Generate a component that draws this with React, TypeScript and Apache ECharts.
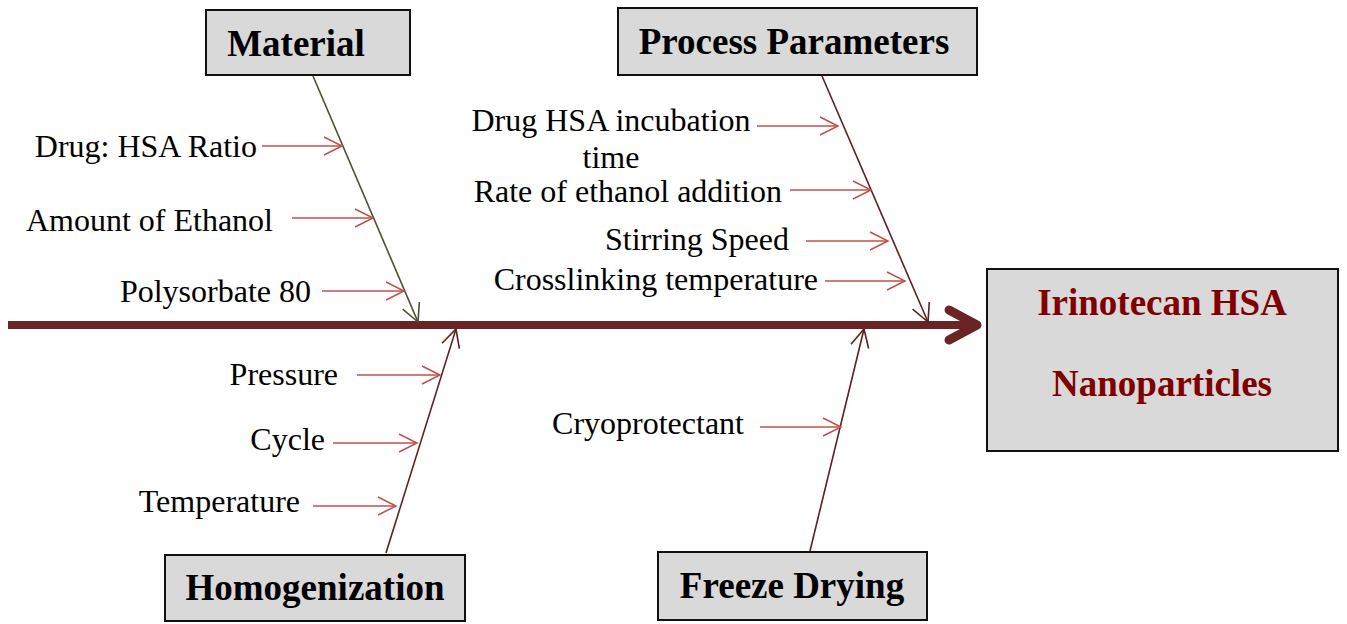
import React, { useEffect, useRef } from "react";
import * as echarts from "echarts";

// ---- Data (labels) ----
const categories = ["Material", "Process Parameters", "Homogenization", "Freeze Drying"];
const materialCauses = ["Drug: HSA Ratio", "Amount of Ethanol", "Polysorbate 80"];
const processCauses = ["Drug HSA incubation\ntime", "Rate of ethanol addition", "Stirring Speed", "Crosslinking temperature"];
const homogenizationCauses = ["Pressure", "Cycle", "Temperature"];
const freezeDryingCauses = ["Cryoprotectant"];
const effectLines = ["Irinotecan HSA", "Nanoparticles"];

// ---- Layout (pixels) ----
const W = 1347;
const H = 624;
const FONT = "'Liberation Serif', 'Times New Roman', serif";
const SPINE = "#6b2424";
const RED = "#c0504d";

const boxLayout = [
  { x: 206, y: 10, w: 204, h: 65, tx: 296, ty: 43, branchColor: "#4f4f2f", from: [313, 76], to: [418, 322] },
  { x: 618, y: 8, w: 359, h: 67, tx: 794, ty: 41, branchColor: "#5e1f1f", from: [822, 76], to: [928, 322] },
  { x: 165, y: 555, w: 300, h: 66, tx: 315, ty: 587, branchColor: "#5e1f1f", from: [386, 553], to: [456, 329] },
  { x: 658, y: 552, w: 269, h: 68, tx: 792, ty: 585, branchColor: "#5e1f1f", from: [810, 551], to: [864, 329] },
];

type CauseLayout = { tx: number; ty: number; align: "right" | "center"; ax0: number; ax1: number; ay: number };
const causeLayout: CauseLayout[][] = [
  [
    { tx: 257, ty: 146, align: "right", ax0: 262, ax1: 342, ay: 146 },
    { tx: 273, ty: 220, align: "right", ax0: 292, ax1: 373, ay: 218 },
    { tx: 311, ty: 291, align: "right", ax0: 322, ax1: 404, ay: 291 },
  ],
  [
    { tx: 611, ty: 138, align: "center", ax0: 757, ax1: 838, ay: 126 },
    { tx: 782, ty: 191, align: "right", ax0: 790, ax1: 871, ay: 190 },
    { tx: 789, ty: 239, align: "right", ax0: 806, ax1: 888, ay: 241 },
    { tx: 818, ty: 279, align: "right", ax0: 825, ax1: 905, ay: 281 },
  ],
  [
    { tx: 338, ty: 374, align: "right", ax0: 357, ax1: 440, ay: 375 },
    { tx: 325, ty: 439, align: "right", ax0: 333, ax1: 417, ay: 443 },
    { tx: 300, ty: 501, align: "right", ax0: 313, ax1: 396, ay: 506 },
  ],
  [{ tx: 744, ty: 423, align: "right", ax0: 760, ax1: 841, ay: 427 }],
];
const causeGroups = [materialCauses, processCauses, homogenizationCauses, freezeDryingCauses];

function chevron(tip: number[], from: number[], len: number, halfAngleDeg: number) {
  const dx = from[0] - tip[0];
  const dy = from[1] - tip[1];
  const d = Math.hypot(dx, dy);
  const ux = dx / d;
  const uy = dy / d;
  const a = (halfAngleDeg * Math.PI) / 180;
  const rot = (s: number) => [
    tip[0] + len * (ux * Math.cos(s * a) - uy * Math.sin(s * a)),
    tip[1] + len * (ux * Math.sin(s * a) + uy * Math.cos(s * a)),
  ];
  return [rot(1), tip, rot(-1)];
}

export default function App() {
  const ref = useRef<HTMLDivElement>(null);
  useEffect(() => {
    if (!ref.current) return;
    const chart = echarts.init(ref.current, null, { renderer: "svg" });
    const els: any[] = [];

    // spine
    els.push({
      type: "line",
      shape: { x1: 8, y1: 325, x2: 974, y2: 325 },
      style: { stroke: SPINE, lineWidth: 8 },
    });
    els.push({
      type: "polyline",
      shape: { points: [[949, 310], [977, 325], [949, 340]] },
      style: { stroke: SPINE, lineWidth: 9, lineCap: "round", lineJoin: "round", fill: null },
    });

    // category boxes and branches
    categories.forEach((name, i) => {
      const b = boxLayout[i];
      els.push({
        type: "rect",
        shape: { x: b.x, y: b.y, width: b.w, height: b.h },
        style: { fill: "#d9d9d9", stroke: "#111", lineWidth: 2 },
      });
      els.push({
        type: "text",
        x: b.tx,
        y: b.ty,
        style: {
          text: name,
          fill: "#000",
          font: `bold 37px ${FONT}`,
          align: "center",
          verticalAlign: "middle",
        },
      });
      els.push({
        type: "line",
        shape: { x1: b.from[0], y1: b.from[1], x2: b.to[0], y2: b.to[1] },
        style: { stroke: b.branchColor, lineWidth: 1.6 },
      });
      els.push({
        type: "polyline",
        shape: { points: chevron(b.to, b.from, 20, 27) },
        style: { stroke: b.branchColor, lineWidth: 1.6, fill: null },
      });

      // causes
      causeGroups[i].forEach((label, j) => {
        const c = causeLayout[i][j];
        els.push({
          type: "text",
          x: c.tx,
          y: c.ty,
          style: {
            text: label,
            fill: "#000",
            font: `32px ${FONT}`,
            align: c.align,
            verticalAlign: "middle",
            lineHeight: 37,
          },
        });
        els.push({
          type: "line",
          shape: { x1: c.ax0, y1: c.ay, x2: c.ax1, y2: c.ay },
          style: { stroke: RED, lineWidth: 1.5 },
        });
        els.push({
          type: "polyline",
          shape: { points: [[c.ax1 - 18, c.ay - 9], [c.ax1, c.ay], [c.ax1 - 18, c.ay + 9]] },
          style: { stroke: RED, lineWidth: 1.5, fill: null },
        });
      });
    });

    // effect box
    els.push({
      type: "rect",
      shape: { x: 987, y: 269, width: 351, height: 182 },
      style: { fill: "#d9d9d9", stroke: "#111", lineWidth: 2 },
    });
    effectLines.forEach((t, k) => {
      els.push({
        type: "text",
        x: 1162,
        y: k === 0 ? 302 : 383,
        style: {
          text: t,
          fill: "#800000",
          font: `bold 37px ${FONT}`,
          align: "center",
          verticalAlign: "middle",
        },
      });
    });

    chart.setOption({
      animation: false,
      backgroundColor: "#ffffff",
      graphic: { elements: els },
    });
    return () => chart.dispose();
  }, []);
  return <div ref={ref} style={{ position: "absolute", left: 0, top: 0, width: W, height: H }} />;
}
